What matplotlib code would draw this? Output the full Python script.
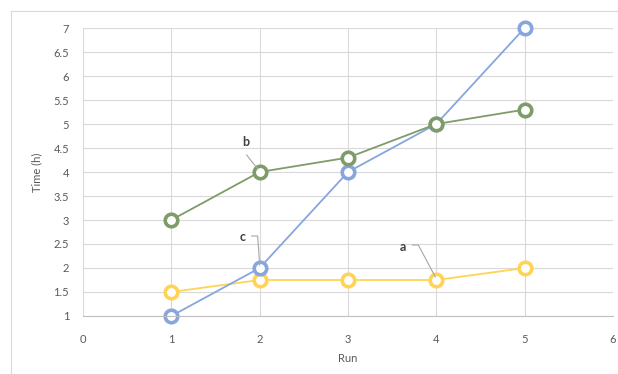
import numpy as np
import matplotlib
matplotlib.use("Agg")
import matplotlib.pyplot as plt
from matplotlib.patches import Rectangle

plt.rcParams['font.family'] = ['Lato', 'DejaVu Sans']

# series data
runs = [1, 2, 3, 4, 5]
series_a = [1.5, 1.75, 1.75, 1.75, 2.0]
series_b = [3.0, 4.0, 4.3, 5.0, 5.3]
series_c = [1.0, 2.0, 4.0, 5.0, 7.0]
x_ticks = [0, 1, 2, 3, 4, 5, 6]
y_ticks = [1, 1.5, 2, 2.5, 3, 3.5, 4, 4.5, 5, 5.5, 6, 6.5, 7]

W, H = 618, 374
fig = plt.figure(figsize=(W / 100, H / 100), dpi=100)
fig.patch.set_facecolor('white')

# outer chart frame
fig.add_artist(Rectangle((10.5 / W, -0.05), 2, (H - 10.5) / H + 0.05,
                         transform=fig.transFigure, fill=False,
                         edgecolor='#d9d9d9', lw=0.8))

ax = fig.add_axes([83 / W, 58 / H, 530 / W, 288 / H])
ax.set_xlim(0, 6)
ax.set_ylim(1, 7)
ax.set_xticks(x_ticks)
ax.set_yticks(y_ticks)
ax.set_yticklabels([f'{v:g}' for v in y_ticks])
ax.grid(True, color='#d9d9d9', lw=0.8)
ax.set_axisbelow(True)
for s in ['top', 'right', 'left']:
    ax.spines[s].set_visible(False)
ax.spines['bottom'].set_color('#bfbfbf')
ax.spines['bottom'].set_linewidth(0.8)
ax.tick_params(length=0, labelsize=8, labelcolor='#595959')
ax.tick_params(axis='x', pad=13)
ax.tick_params(axis='y', pad=10)

ax.set_xlabel('Run', fontsize=8, color='#595959', labelpad=6)
ax.set_ylabel('Time (h)', fontsize=8, color='#595959', labelpad=8)

mk = dict(marker='o', markersize=9, markerfacecolor='white', markeredgewidth=2.6,
          lw=1.3, clip_on=False)
ax.plot(runs, series_a, color='#ffd454', markeredgecolor='#ffd454', **mk)
ax.plot(runs, series_c, color='#87a6dd', markeredgecolor='#87a6dd', **mk)
ax.plot(runs, series_b, color='#7e9c69', markeredgecolor='#7e9c69', **mk)


def label(name, x, y, text_off, path):
    # data labels with grey leader lines, offsets in pixels
    px, py = ax.transData.transform((x, y))
    pts = np.array([[px + dx, py + dy] for dx, dy in path])
    d = ax.transData.inverted().transform(pts)
    ax.plot(d[:, 0], d[:, 1], color='#a6a6a6', lw=0.8, clip_on=False)
    tx, ty = ax.transData.inverted().transform((px + text_off[0], py + text_off[1]))
    ax.text(tx, ty, name, fontsize=9, fontweight='bold', color='#404040',
            ha='center', va='center')


label('b', 2, series_b[1], (-14, 30), [(-13, 17), (-2, 3)])
label('c', 2, series_c[1], (-17, 31), [(-8, 32), (-2, 32), (0, 3)])
label('a', 4, series_a[3], (-33, 33), [(-24, 35), (-18, 35), (-1, 3)])

fig.savefig('out.png', dpi=100)
